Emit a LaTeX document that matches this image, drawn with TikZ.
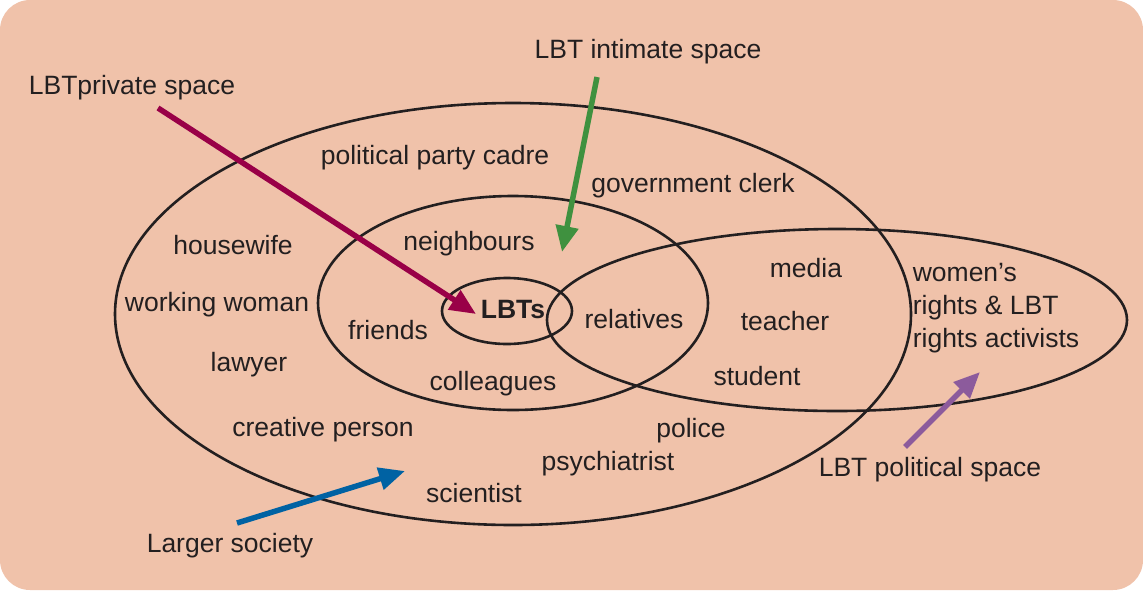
\documentclass[tikz,border=0pt]{standalone}
\usepackage{fontspec}
\setmainfont{Liberation Sans}
\usepackage{tikz}
\usetikzlibrary{arrows.meta}
\definecolor{bgpeach}{HTML}{F0C2AA}
\definecolor{inkgray}{HTML}{231F20}
\definecolor{privred}{HTML}{990047}
\definecolor{intigreen}{HTML}{3F913F}
\definecolor{socblue}{HTML}{0062A3}
\definecolor{polpurple}{HTML}{8C5B9C}
\tikzstyle{member} = [text=inkgray, font=\fontsize{26.5}{32}\selectfont, inner sep=0pt]
\tikzstyle{spacename} = [member]
\tikzstyle{ring} = [draw=inkgray, line width=2.6pt]
\tikzstyle{spacearrow} = [line width=5.5pt, -{Triangle[length=26pt,width=22pt]}]

\begin{document}
\begin{tikzpicture}[x=1pt, y=-1pt]
						\useasboundingbox (0,0) rectangle (1143,590);
						\fill [bgpeach, rounded corners=30pt] (0,0) rectangle (1143,590);
						% circles of society
						\draw [ring] (513,314) ellipse [x radius=398, y radius=211];
						\draw [ring] (513,303) ellipse [x radius=195, y radius=107];
						\draw [ring] (507,311) ellipse [x radius=65, y radius=33];
						\draw [ring] (837,320) ellipse [x radius=290, y radius=91];
						% people
						\node (cadre) [member] at (435,158) {political party cadre};
						\node (clerk) [member] at (693,186) {government clerk};
						\node (housewife) [member] at (233,245) {housewife};
						\node (neighbours) [member] at (469,244) {neighbours};
						\node (media) [member] at (806,268) {media};
						\node (activists) [member, align=left] at (996,308) {women's\\[1pt]rights \& LBT\\[1pt]rights activists};
						\node (working) [member] at (217,305) {working woman};
						\node (friends) [member] at (388,330) {friends};
						\node (lbts) [member, font=\fontsize{26.5}{32}\selectfont\bfseries] at (513,310) {LBTs};
						\node (relatives) [member] at (634,319) {relatives};
						\node (teacher) [member] at (785,321) {teacher};
						\node (lawyer) [member] at (249,365) {lawyer};
						\node (student) [member] at (757,376) {student};
						\node (colleagues) [member] at (493,384) {colleagues};
						\node (creative) [member] at (323,430) {creative person};
						\node (police) [member] at (691,431) {police};
						\node (psychiatrist) [member] at (608,464) {psychiatrist};
						\node (scientist) [member] at (474,493) {scientist};
						% spaces
						\node (private) [spacename] at (132,88) {LBTprivate space};
						\node (intimate) [spacename] at (648,52) {LBT intimate space};
						\node (political) [spacename] at (930,470) {LBT political space};
						\node (larger) [spacename] at (230,546) {Larger society};
						\coordinate (privstart) at (158,108);
						\coordinate (privtip) at (476,314);
						\coordinate (intistart) at (597,77);
						\coordinate (intitip) at (562,252);
						\coordinate (polstart) at (905,447);
						\coordinate (poltip) at (980,372);
						\coordinate (socstart) at (237,523);
						\coordinate (soctip) at (405,471);
						\draw [spacearrow, privred] (privstart) -- (privtip);
						\draw [spacearrow, intigreen] (intistart) -- (intitip);
						\draw [spacearrow, polpurple] (polstart) -- (poltip);
						\draw [spacearrow, socblue] (socstart) -- (soctip);
					\end{tikzpicture}
\end{document}
